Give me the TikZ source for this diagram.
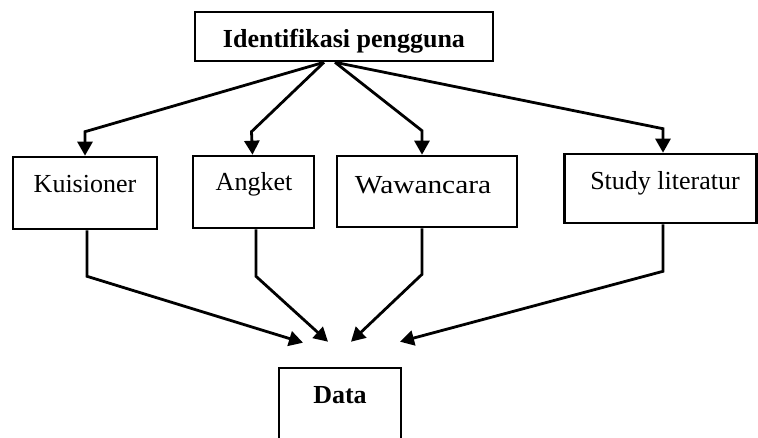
\documentclass[tikz,border=0pt]{standalone}
\usepackage{fontspec}
\setmainfont{Liberation Serif}
\usetikzlibrary{arrows.meta}
\tikzset{
  box/.style={draw, line width=2.6pt, rectangle, inner sep=0pt},
  lbl/.style={anchor=base, inner sep=0pt, font=\fontsize{26}{30}\selectfont},
  arr/.style={line width=2.8pt, -{Triangle[length=14pt,width=15pt]}},
}
\begin{document}
\begin{tikzpicture}[x=1pt,y=-1pt]
\clip (0,0) rectangle (758,437);
\fill[white] (0,0) rectangle (758,437);
% boxes
\node[box, minimum width=298pt, minimum height=49pt] (top) at (344,36.5) {};
\node[box, minimum width=144pt, minimum height=72pt] (k1) at (85,193) {};
\node[box, minimum width=121pt, minimum height=72pt] (k2) at (253.5,192) {};
\node[box, minimum width=180pt, minimum height=71pt] (k3) at (427,191.5) {};
\node[box, minimum width=192pt, minimum height=69pt] (k4) at (660.5,188.5) {};
\node[box, minimum width=122pt, minimum height=110pt] (data) at (340,423) {};
% labels
\node[lbl, font=\fontsize{26}{30}\selectfont\bfseries] (ttop) at (344,47) {Identifikasi pengguna};
\node[lbl] (t1) at (85,192) {Kuisioner};
\node[lbl] (t2) at (254,190) {Angket};
\node[lbl] (t3) at (423,193) {\scalebox{1.13}[1]{Wawancara}};
\node[lbl] (t4) at (665,189) {Study literatur};
\node[lbl, font=\fontsize{26}{30}\selectfont\bfseries] (t5) at (340,403) {Data};
% arrows from top
\draw[arr] ([xshift=-20pt]top.south) -- ([yshift=24pt]k1.north) -- (k1.north);
\draw[arr] ([xshift=-20pt]top.south) -- ([xshift=-2pt,yshift=23pt]k2.north) -- ([xshift=-1pt]k2.north);
\draw[arr] ([xshift=-9pt]top.south) -- ([xshift=-5pt,yshift=24pt]k3.north) -- ([xshift=-5pt]k3.north);
\draw[arr] ([xshift=-9pt]top.south) -- ([xshift=2.5pt,yshift=24pt]k4.north) -- ([xshift=2.5pt]k4.north);
% arrows to data
\draw[arr] ([xshift=2pt]k1.south) -- ([xshift=2pt,yshift=-46pt]k1.south) -- ([xshift=-37pt,yshift=24pt]data.north);
\draw[arr] ([xshift=2.5pt]k2.south) -- ([xshift=2.5pt,yshift=-47pt]k2.south) -- ([xshift=-12pt,yshift=25pt]data.north);
\draw[arr] ([xshift=-5pt]k3.south) -- ([xshift=-5pt,yshift=-46pt]k3.south) -- ([xshift=11pt,yshift=25pt]data.north);
\draw[arr] ([xshift=2.5pt]k4.south) -- ([xshift=2.5pt,yshift=-47pt]k4.south) -- ([xshift=60pt,yshift=25pt]data.north);
\end{tikzpicture}
\end{document}
